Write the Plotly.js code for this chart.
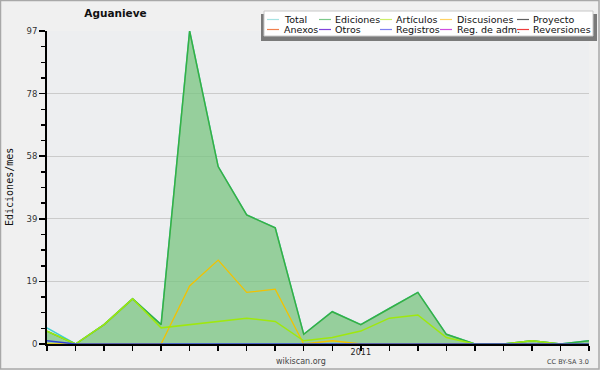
<!DOCTYPE html>
<html>
<head>
<meta charset="utf-8">
<script src="https://cdn.plot.ly/plotly-3.0.1.min.js"></script>
<style>
html,body{margin:0;padding:0;background:#f0f0f0;}
#chart{width:600px;height:370px;}
</style>
</head>
<body>
<div id="chart"></div>
<script>
// ---- data ----
const months = ['2010-02','2010-03','2010-04','2010-05','2010-06','2010-07','2010-08','2010-09','2010-10','2010-11','2010-12',
                '2011-01','2011-02','2011-03','2011-04','2011-05','2011-06','2011-07','2011-08','2011-09'];
const xTickText = ['','','','','','','','','','','','2011','','','','','','','',''];
const total       = [5,0,6,14,6,97,55,40,36,3,10,6,11,16,3,0,0,1,0,1];
const ediciones   = [4,0,6,14,6,97,55,40,36,3,10,6,11,16,3,0,0,1,0,1];
const articulos   = [4,0,6,14,5,6,7,8,7,1,2,4,8,9,2,0,0,1,0,0];
const discusiones = [0,0,0,0,0,18,26,16,17,0,1,0,0,0,0,0,0,0,0,0];
const registros   = [1,0,0,0,0,0,0,0,0,0,0,0,0,0,0,0,0,0,0,0];
const yTickVals = [0,19.4,38.8,58.2,77.6,97];
const yTickText = ['0','19','39','58','78','97'];
const legendNames  = ['Total','Ediciones','Artículos','Discusiones','Proyecto',
                      'Anexos','Otros','Registros','Reg. de adm.','Reversiones'];
const legendColors = ['#a6e2e2','#7cc98a','#cdee6a','#ffd263','#606060',
                      '#f0804e','#8044dc','#7f7ff0','#d04ee0','#ee3c3c'];

// ---- layout geometry ----
const W = 600, H = 370, ML = 47, MR = 11, MT = 31, MB = 26;
const PW = W - ML - MR, PH = H - MT - MB;
const xp = px => (px - ML) / PW;
const yp = py => (H - MB - py) / PH;

const traces = [
  {x: months, y: total, name: 'Total', mode: 'lines', line: {color: '#3fd0d0', width: 1.5}},
  {x: months, y: ediciones, name: 'Ediciones', mode: 'lines', fill: 'tozeroy',
   fillcolor: 'rgba(120,196,128,0.75)', line: {color: '#36b043', width: 1.5}},
  {x: months, y: discusiones, name: 'Discusiones', mode: 'lines', line: {color: '#f2c200', width: 1.3}},
  {x: months, y: articulos, name: 'Artículos', mode: 'lines', line: {color: '#9fe80e', width: 1.5}},
  {x: months, y: registros, name: 'Registros', mode: 'lines', line: {color: '#3040d8', width: 1.5}}
];

const shapes = [];
const annotations = [];

// outer border
shapes.push({type: 'rect', xref: 'paper', yref: 'paper', x0: xp(0.5), x1: xp(599), y0: yp(0.5), y1: yp(369),
  line: {color: '#a8a8a8', width: 1.5}, fillcolor: 'rgba(0,0,0,0)', layer: 'above'});

// legend box with shadow
shapes.push({type: 'rect', xref: 'paper', yref: 'paper', x0: xp(261), x1: xp(597), y0: yp(14), y1: yp(41),
  line: {width: 0}, fillcolor: '#7a7a7a', layer: 'above'});
shapes.push({type: 'rect', xref: 'paper', yref: 'paper', x0: xp(264), x1: xp(593), y0: yp(11), y1: yp(36),
  line: {color: '#c8c8c8', width: 1}, fillcolor: '#ffffff', layer: 'above'});

const colLine = [267, 319, 380, 440, 517];
const colText = [284, 335, 396, 456.5, 533];
const rowY = [19.5, 29.5];
legendNames.forEach((nm, i) => {
  const r = Math.floor(i / 5), c = i % 5;
  shapes.push({type: 'line', xref: 'paper', yref: 'paper', x0: xp(colLine[c]), x1: xp(colLine[c] + 12),
    y0: yp(rowY[r]), y1: yp(rowY[r]), line: {color: legendColors[i], width: 1.2}, layer: 'above'});
  annotations.push({xref: 'paper', yref: 'paper', x: xp(colText[c] - 2), y: yp(rowY[r]), text: nm,
    showarrow: false, xanchor: 'left', yanchor: 'middle',
    font: {family: 'DejaVu Sans', size: 9.5, color: '#111'}});
});

// y title
annotations.push({xref: 'paper', yref: 'paper', x: xp(9.5), y: yp(187.5), text: 'Ediciones/mes', textangle: -90,
  showarrow: false, xanchor: 'center', yanchor: 'middle',
  font: {family: 'DejaVu Sans Mono', size: 10, color: '#111'}});
// footer texts
annotations.push({xref: 'paper', yref: 'paper', x: xp(300.5), y: yp(361), text: 'wikiscan.org',
  showarrow: false, xanchor: 'center', yanchor: 'middle',
  font: {family: 'DejaVu Sans', size: 8, color: '#444'}});
annotations.push({xref: 'paper', yref: 'paper', x: xp(591), y: yp(362), text: 'CC BY-SA 3.0',
  showarrow: false, xanchor: 'right', yanchor: 'middle',
  font: {family: 'DejaVu Sans', size: 6.5, color: '#444'}});

const layout = {
  width: W, height: H,
  margin: {l: ML, r: MR, t: MT, b: MB, pad: 0},
  paper_bgcolor: '#f0f0f0', plot_bgcolor: '#edeef0',
  showlegend: false,
  title: {text: '<b>Aguanieve</b>', x: xp(115.5), xref: 'paper', xanchor: 'center',
    y: 1 - 13.5 / H, yanchor: 'middle', font: {family: 'DejaVu Sans', size: 10.5, color: '#111'}},
  xaxis: {type: 'category', range: [0, months.length - 1], tickmode: 'array', tickvals: months, ticktext: xTickText,
    ticks: 'outside', ticklen: 5, tickwidth: 1.5, tickcolor: '#000', showline: true, linecolor: '#000', linewidth: 2,
    showgrid: false, zeroline: false, ticklabelstandoff: -6,
    tickfont: {family: 'DejaVu Sans', size: 8, color: '#222'}, fixedrange: true},
  yaxis: {range: [0, 97], tickmode: 'array', tickvals: yTickVals, ticktext: yTickText,
    ticks: 'outside', ticklen: 6, tickwidth: 1.5, tickcolor: '#000', showline: true, linecolor: '#000', linewidth: 2,
    showgrid: true, gridcolor: '#cbcbcb', gridwidth: 1, zeroline: false,
    minor: {tickmode: 'linear', tick0: 0, dtick: 4.85, ticklen: 4, tickwidth: 1.5, tickcolor: '#000', showgrid: false},
    tickfont: {family: 'DejaVu Sans', size: 8.5, color: '#333'}, fixedrange: true},
  shapes: shapes,
  annotations: annotations
};

Plotly.newPlot('chart', traces, layout, {staticPlot: true, displayModeBar: false});
</script>
</body>
</html>
